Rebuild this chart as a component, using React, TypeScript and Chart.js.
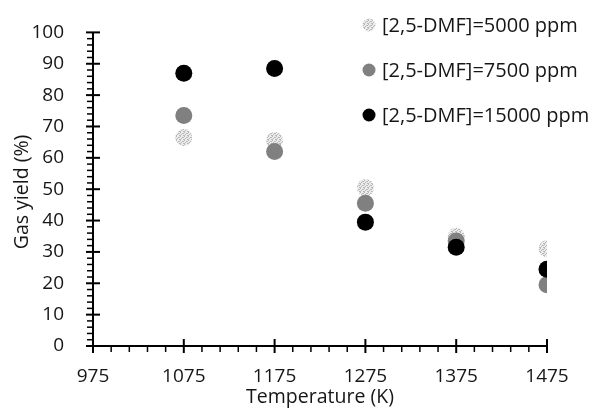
import React, { useEffect, useRef } from 'react';
import { Chart, registerables } from 'chart.js';

Chart.register(...registerables);

const temperatures = [1075, 1175, 1275, 1375, 1475];
const yield5000 = [66.5, 65.5, 50.5, 35, 31];
const yield7500 = [73.5, 62, 45.5, 33.5, 19.5];
const yield15000 = [87, 88.5, 39.5, 31.5, 24.5];
const seriesLabels = ['[2,5-DMF]=5000 ppm', '[2,5-DMF]=7500 ppm', '[2,5-DMF]=15000 ppm'];
const xTickValues = [975, 1075, 1175, 1275, 1375, 1475];
const yTickValues = [0, 10, 20, 30, 40, 50, 60, 70, 80, 90, 100];
const xTitle = 'Temperature (K)';
const yTitle = 'Gas yield (%)';

const FONT = 'Open Sans';
const TEXT = '#161616';

function makeSpeckle(): CanvasPattern | string {
  const c = document.createElement('canvas');
  c.width = 4;
  c.height = 4;
  const g = c.getContext('2d');
  if (!g) return '#d0d0d0';
  g.fillStyle = '#ececec';
  g.fillRect(0, 0, 4, 4);
  g.fillStyle = '#b8b8b8';
  const dots = [[0, 0], [2, 1], [1, 2], [3, 3], [3, 1], [0, 3]];
  dots.forEach(([a, b]) => g.fillRect(a, b, 1, 1));
  const p = g.createPattern(c, 'repeat');
  return p || '#d0d0d0';
}

export default function App() {
  const ref = useRef<HTMLCanvasElement | null>(null);

  useEffect(() => {
    if (!ref.current) return;
    const speckle = makeSpeckle();
    const colors: any[] = [speckle, '#808080', '#000000'];

    const axesPlugin = {
      id: 'customAxes',
      afterDraw(chart: any) {
        const { ctx, chartArea, scales } = chart;
        const xs = scales.x;
        const ys = scales.y;
        const left = chartArea.left;
        const bottom = chartArea.bottom;
        ctx.save();
        ctx.strokeStyle = '#000';
        ctx.lineWidth = 2;
        ctx.beginPath();
        ctx.moveTo(left, ys.getPixelForValue(100));
        ctx.lineTo(left, bottom);
        ctx.lineTo(xs.getPixelForValue(1475), bottom);
        ctx.stroke();
        for (let v = 0; v <= 100; v += 2) {
          const py = ys.getPixelForValue(v);
          const major = v % 10 === 0;
          ctx.lineWidth = major ? 2 : 1.5;
          ctx.beginPath();
          ctx.moveTo(left - (major ? 7 : 6), py);
          ctx.lineTo(left + (major ? 7 : 1), py);
          ctx.stroke();
        }
        for (let v = 975; v <= 1475; v += 20) {
          const px = xs.getPixelForValue(v);
          const major = (v - 975) % 100 === 0;
          ctx.lineWidth = major ? 2 : 1.5;
          ctx.beginPath();
          ctx.moveTo(px, bottom - (major ? 7 : 1));
          ctx.lineTo(px, bottom + (major ? 7 : 6));
          ctx.stroke();
        }
        ctx.restore();

        // y-axis title
        ctx.save();
        ctx.font = `19.5px "${FONT}"`;
        ctx.fillStyle = TEXT;
        ctx.textAlign = 'center';
        ctx.textBaseline = 'middle';
        ctx.translate(22, 192);
        ctx.rotate(-Math.PI / 2);
        ctx.fillText(yTitle, 0, 0);
        ctx.restore();

        // legend
        ctx.save();
        ctx.font = `20px "${FONT}"`;
        ctx.textBaseline = 'middle';
        ctx.textAlign = 'left';
        const rowsY = [25, 70, 115];
        seriesLabels.forEach((lab, i) => {
          ctx.beginPath();
          ctx.arc(369, rowsY[i], 6.5, 0, Math.PI * 2);
          ctx.fillStyle = colors[i];
          ctx.fill();
          ctx.fillStyle = TEXT;
          ctx.fillText(lab, 382, rowsY[i] + 1);
        });
        ctx.restore();
      },
    };

    const makeData = (vals: number[]) => temperatures.map((t, i) => ({ x: t, y: vals[i] }));

    const chart = new Chart(ref.current, {
      type: 'scatter',
      data: {
        datasets: [
          { label: seriesLabels[0], data: makeData(yield5000), backgroundColor: colors[0], borderWidth: 0, pointRadius: 8.5, order: 3 },
          { label: seriesLabels[1], data: makeData(yield7500), backgroundColor: colors[1], borderWidth: 0, pointRadius: 8.5, order: 2 },
          { label: seriesLabels[2], data: makeData(yield15000), backgroundColor: colors[2], borderWidth: 0, pointRadius: 8.5, order: 1 },
        ],
      },
      options: {
        responsive: false,
        animation: false,
        layout: { padding: { top: 19, right: 42, left: 0, bottom: 0 } },
        plugins: { legend: { display: false }, tooltip: { enabled: false } },
        scales: {
          x: {
            type: 'linear',
            min: 975,
            max: 1475,
            afterBuildTicks: (s: any) => { s.ticks = xTickValues.map((v) => ({ value: v })); },
            afterFit: (s: any) => { s.height = 70; },
            grid: { display: false },
            border: { display: false },
            ticks: { color: TEXT, font: { family: FONT, size: 19 }, padding: 11, callback: (v: any) => String(v) },
            title: { display: true, text: xTitle, color: TEXT, font: { family: FONT, size: 19.5 }, padding: { top: 0, bottom: 7 } },
          },
          y: {
            type: 'linear',
            min: 0,
            max: 100,
            afterBuildTicks: (s: any) => { s.ticks = yTickValues.map((v) => ({ value: v })); },
            afterFit: (s: any) => { s.width = 93; },
            grid: { display: false },
            border: { display: false },
            ticks: { color: TEXT, font: { family: FONT, size: 19 }, padding: 21, callback: (v: any) => String(v) },
            title: { display: false, text: yTitle },
          },
        },
      },
      plugins: [axesPlugin],
    } as any);

    return () => chart.destroy();
  }, []);

  return (
    <div style={{ position: 'fixed', left: 0, top: 0, width: 589, height: 416, background: '#fff' }}>
      <canvas ref={ref} width={589} height={416} />
    </div>
  );
}
